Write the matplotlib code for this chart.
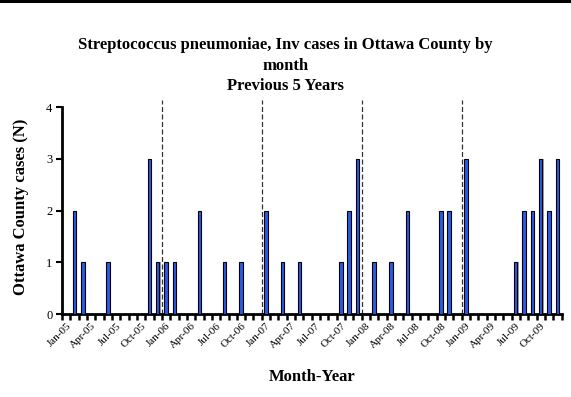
import matplotlib.pyplot as plt
import matplotlib.transforms as mtransforms
import numpy as np
from matplotlib.lines import Line2D

plt.rcParams['font.family'] = ['Liberation Serif', 'DejaVu Serif']

# monthly case counts, Jan-05 .. Dec-09
months = [f"{m}-{y:02d}" for y in range(5, 10)
          for m in ['Jan', 'Feb', 'Mar', 'Apr', 'May', 'Jun',
                    'Jul', 'Aug', 'Sep', 'Oct', 'Nov', 'Dec']]
cases_2005 = [0, 2, 1, 0, 0, 1, 0, 0, 0, 0, 3, 1]
cases_2006 = [1, 1, 0, 0, 2, 0, 0, 1, 0, 1, 0, 0]
cases_2007 = [2, 0, 1, 0, 1, 0, 0, 0, 0, 1, 2, 3]
cases_2008 = [0, 1, 0, 1, 0, 2, 0, 0, 0, 2, 2, 0]
cases_2009 = [3, 0, 0, 0, 0, 0, 1, 2, 2, 3, 2, 3]
cases = cases_2005 + cases_2006 + cases_2007 + cases_2008 + cases_2009

x = np.arange(len(months))

fig = plt.figure(figsize=(5.71, 3.97), dpi=100)
ax = fig.add_axes([0.1086, 0.209, 0.8748, 0.5396])

# drop shadow then bars
ax.bar(x + 0.13, cases, width=0.42, color='#a0a0a0', zorder=2)
ax.bar(x, cases, width=0.42, color='#2a5bea', edgecolor='black', linewidth=0.8, zorder=3)

# year separators
for b in [11.5, 23.5, 35.5, 47.5]:
    ax.axvline(b, color='#333333', linestyle=(0, (4, 2)), linewidth=0.9, zorder=1)

ax.set_xlim(-0.5, 59.5)
ax.set_ylim(0, 4.14)
ax.set_yticks([0, 1, 2, 3, 4])
ax.spines['left'].set_bounds(0, 4)
ax.spines['top'].set_visible(False)
ax.spines['right'].set_visible(False)
ax.spines['left'].set_linewidth(2)
ax.spines['bottom'].set_linewidth(2)

ax.set_xticks(x[::3])
ax.set_xticklabels(months[::3], rotation=45, ha='right', rotation_mode='anchor', fontsize=8)
shift = mtransforms.ScaledTranslation(-4 / 100, 0, fig.dpi_scale_trans)
for lbl in ax.get_xticklabels():
    lbl.set_transform(lbl.get_transform() + shift)
ax.set_xticks(np.arange(-0.5, 60, 1), minor=True)
ax.tick_params(axis='x', which='major', length=0, pad=5)
ax.tick_params(axis='x', which='minor', length=4, width=1.8, direction='out')
ax.tick_params(axis='y', labelsize=9, length=4, width=1.5, pad=3)

ax.set_ylabel('Ottawa County cases (N)', fontsize=12, fontweight='bold', labelpad=12)
ax.set_xlabel('Month-Year', fontsize=12, fontweight='bold', labelpad=14)

title_kw = dict(ha='center', va='center', fontsize=12, fontweight='bold')
fig.text(0.5, 0.887, 'Streptococcus pneumoniae, Inv cases in Ottawa County by', **title_kw)
fig.text(0.5, 0.834, 'month', **title_kw)
fig.text(0.5, 0.783, 'Previous 5 Years', **title_kw)

# rule across the top edge
fig.add_artist(Line2D([0, 1], [0.997, 0.997], color='black', linewidth=2.2,
                      transform=fig.transFigure))

fig.savefig('out.png', dpi=100)
